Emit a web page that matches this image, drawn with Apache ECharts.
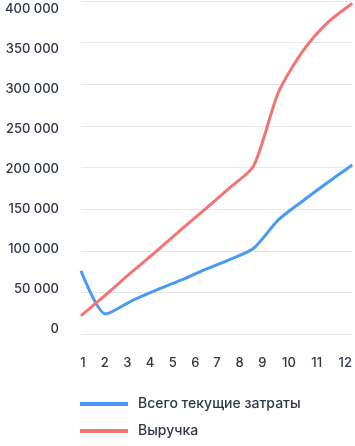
<!DOCTYPE html>
<html>
<head>
<meta charset="utf-8">
<script src="https://cdn.jsdelivr.net/npm/echarts@6/dist/echarts.min.js"></script>
<style>
html,body{margin:0;padding:0;background:#fff;}
#c{width:355px;height:446px;}
</style>
</head>
<body>
<div id="c"></div>
<script>
// ---- data ----
const categories = ['1','2','3','4','5','6','7','8','9','10','11','12'];
const seriesNames = ['Всего текущие затраты', 'Выручка'];
const totalCosts = [76000, 24000, 39000, 52000, 64000, 77000, 89000, 103000, 137000, 160000, 182000, 203000];
const revenue = [22000, 47000, 73000, 98000, 124000, 149000, 175000, 202000, 290000, 340000, 374000, 397000];
const yMin = 0, yMax = 400000, yStep = 50000;

// ---- styling helpers (label nudges only) ----
const xLabelShift = [2, -1, -3, -5, -7, -9, -12, -14, -16, -14, -11, -7];
const xRich = {};
xLabelShift.forEach((d, i) => {
  xRich['x' + i] = { padding: d >= 0 ? [0, 0, 0, 2 * d] : [0, -2 * d, 0, 0] };
});
const yRich = {};
for (let k = 0; k <= 8; k++) {
  const v = k * yStep;
  const d = Math.round((-5 + (v / yMax) * 13) * 2) / 2;
  yRich['y' + k] = { padding: d >= 0 ? [2 * d, 0, 0, 0] : [0, 0, -2 * d, 0] };
}
function fmt(v) { return String(v).replace(/\B(?=(\d{3})+(?!\d))/g, ' '); }

const textColor = '#2f3747';
const font = 'Inter, "Noto Sans", sans-serif';

const chart = echarts.init(document.getElementById('c'), null, { renderer: 'canvas' });
chart.setOption({
  animation: false,
  backgroundColor: '#ffffff',
  grid: { left: 81, right: 2, top: 1, bottom: 112, containLabel: false },
  legend: {
    orient: 'vertical',
    left: 80,
    top: 397,
    padding: 0,
    height: 49,
    itemWidth: 48,
    itemHeight: 4,
    itemGap: 13,
    icon: 'rect',
    textStyle: { color: textColor, fontFamily: font, fontSize: 14, fontWeight: 500, padding: [0, 0, 0, 5] },
    data: seriesNames
  },
  xAxis: {
    type: 'category',
    data: categories,
    boundaryGap: false,
    axisLine: { show: false },
    axisTick: { show: false },
    splitLine: { show: false },
    axisLabel: {
      margin: 23,
      interval: 0,
      color: textColor,
      fontFamily: font,
      fontSize: 13,
      fontWeight: 500,
      formatter: (v, i) => '{x' + i + '|' + v + '}',
      rich: xRich
    }
  },
  yAxis: {
    type: 'value',
    min: yMin,
    max: yMax,
    interval: yStep,
    axisLine: { show: false },
    axisTick: { show: false },
    splitLine: { lineStyle: { color: '#e6e8ec', width: 1 } },
    axisLabel: {
      margin: 22,
      color: textColor,
      fontFamily: font,
      fontSize: 13,
      fontWeight: 500,
      formatter: v => '{y' + Math.round(v / yStep) + '|' + fmt(v) + '}',
      rich: yRich
    }
  },
  series: [
    {
      name: seriesNames[0],
      type: 'line',
      data: totalCosts,
      symbol: 'none',
      smooth: 0.25,
      itemStyle: { color: '#4a9af2' },
      lineStyle: { color: '#4a9af2', width: 3 }
    },
    {
      name: seriesNames[1],
      type: 'line',
      data: revenue,
      symbol: 'none',
      smooth: 0.25,
      itemStyle: { color: '#f17572' },
      lineStyle: { color: '#f17572', width: 3 }
    }
  ]
});
</script>
</body>
</html>
